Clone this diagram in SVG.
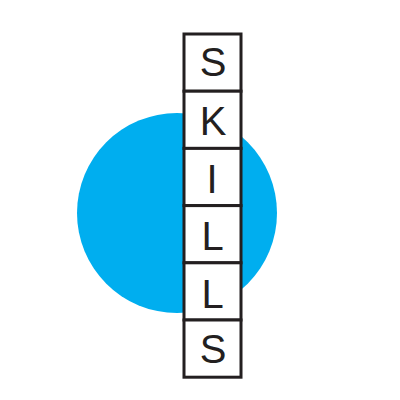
<svg xmlns="http://www.w3.org/2000/svg" width="400" height="400" viewBox="0 0 400 400">
<style>
.box{fill:#fff;stroke:#231f20;stroke-width:3}
.t{font-family:"Liberation Sans",Arial,sans-serif;font-size:40px;fill:#231f20;text-anchor:middle}
</style>
<rect width="400" height="400" fill="#fff"/>
<circle id="circle" cx="177" cy="213" r="100" fill="#00aeef"/>
<g id="box1"><rect class="box" x="184" y="34" width="57" height="57.2"/><text class="t" x="213" y="75.5">S</text></g>
<g id="box2"><rect class="box" x="184" y="91.2" width="57" height="57.2"/><text class="t" x="213" y="134.5">K</text></g>
<g id="box3"><rect class="box" x="184" y="148.4" width="57" height="57.2"/><text class="t" x="212" y="192.5">I</text></g>
<g id="box4"><rect class="box" x="184" y="205.6" width="57" height="57.2"/><text class="t" x="212.5" y="250">L</text></g>
<g id="box5"><rect class="box" x="184" y="262.8" width="57" height="57.2"/><text class="t" x="212.5" y="307.8">L</text></g>
<g id="box6"><rect class="box" x="184" y="320" width="57" height="57.2"/><text class="t" x="213" y="362.8">S</text></g>
</svg>
